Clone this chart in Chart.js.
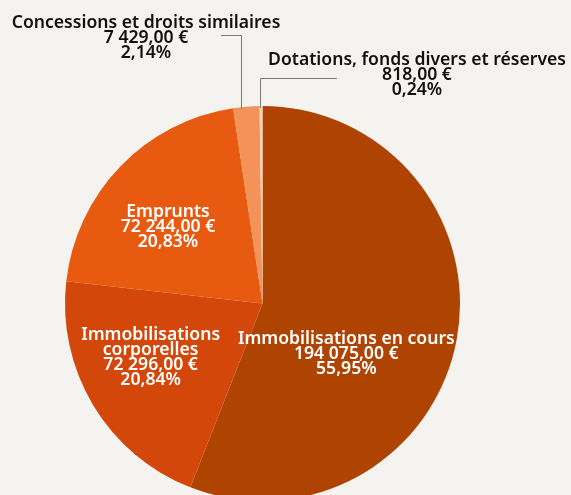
<!DOCTYPE html>
<html>
<head>
<meta charset="utf-8">
<script src="https://cdn.jsdelivr.net/npm/chart.js@4"></script>
<style>
  html, body { margin: 0; padding: 0; background: #F4F3EF; overflow: hidden; width: 571px; height: 495px; }
  #wrap { position: absolute; left: 0; top: 0; width: 571px; height: 520px; }
</style>
</head>
<body>
<div id="wrap"><canvas id="c"></canvas></div>
<script>
const categories = [
  ["Immobilisations en cours"],
  ["Immobilisations", "corporelles"],
  ["Emprunts"],
  ["Concessions et droits similaires"],
  ["Dotations, fonds divers et réserves"]
];
const amounts = [194075.00, 72296.00, 72244.00, 7429.00, 818.00];
const amountLabels = ["194 075,00 €", "72 296,00 €", "72 244,00 €", "7 429,00 €", "818,00 €"];
const percentLabels = ["55,95%", "20,84%", "20,83%", "2,14%", "0,24%"];
const colors = ["#AE4302", "#D3470A", "#E85A10", "#F3935A", "#FBD2AC"];

// label placement: inside labels by [angle deg from top clockwise, radius fraction];
// outside labels by leader line geometry
const placement = [
  { inside: true, angle: 120, frac: 0.49 },
  { inside: true, angle: 245, frac: 0.625 },
  { inside: true, angle: 309.7, frac: 0.622 },
  { inside: false, lineX: -21.5, elbowY: 35, endX: 221, textX: 146, textY: 21 },
  { inside: false, lineX: -2.5, elbowY: 78, endX: 337, textX: 417, textY: 58 }
];

const FONT = '600 17.6px "Noto Sans", "Open Sans", sans-serif';
const LH = 15;
const DY = 2;

const labelPlugin = {
  id: 'labels',
  afterDatasetsDraw(chart) {
    const ctx = chart.ctx;
    const meta = chart.getDatasetMeta(0);
    ctx.save();
    ctx.font = FONT;
    ctx.textAlign = 'center';
    ctx.textBaseline = 'middle';
    meta.data.forEach((arc, i) => {
      const lines = categories[i].concat([amountLabels[i], percentLabels[i]]);
      const p = placement[i];
      const cx = arc.x, cy = arc.y, r = arc.outerRadius;
      if (p.inside) {
        const a = p.angle * Math.PI / 180;
        const x = cx + r * p.frac * Math.sin(a);
        const y = cy - r * p.frac * Math.cos(a);
        const y0 = y - (lines.length - 1) * LH / 2 + DY;
        ctx.fillStyle = '#FFFFFF';
        lines.forEach((t, k) => ctx.fillText(t, x, y0 + k * LH));
      } else {
        const lx = cx + p.lineX;
        const ly = cy - Math.sqrt(r * r - p.lineX * p.lineX) + 2;
        ctx.strokeStyle = '#7A7A7A';
        ctx.lineWidth = 1;
        ctx.beginPath();
        ctx.moveTo(Math.round(lx) + 0.5, ly);
        ctx.lineTo(Math.round(lx) + 0.5, p.elbowY + 0.5);
        ctx.lineTo(p.endX, p.elbowY + 0.5);
        ctx.stroke();
        ctx.fillStyle = '#111111';
        lines.forEach((t, k) => ctx.fillText(t, p.textX, p.textY + k * LH + DY));
      }
    });
    ctx.restore();
  }
};

new Chart(document.getElementById('c'), {
  type: 'pie',
  data: {
    labels: categories.map(c => c.join(' ')),
    datasets: [{
      data: amounts,
      backgroundColor: colors,
      borderWidth: 0
    }]
  },
  options: {
    responsive: true,
    maintainAspectRatio: false,
    animation: false,
    layout: { padding: { top: 106, left: 65, right: 111, bottom: 19 } },
    plugins: { legend: { display: false }, tooltip: { enabled: false } }
  },
  plugins: [labelPlugin]
});
</script>
</body>
</html>
